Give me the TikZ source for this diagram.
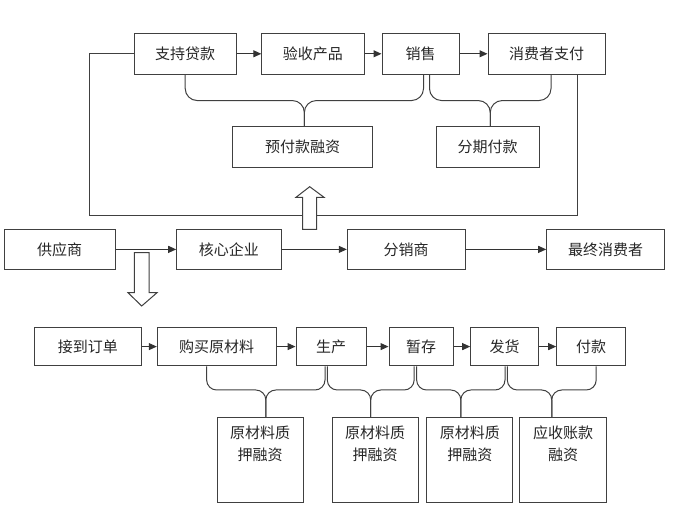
\documentclass[tikz,border=0pt]{standalone}
\usepackage{fontspec}
\newfontfamily\cjk{Noto Sans CJK SC}
\usetikzlibrary{arrows.meta,calc}

\begin{document}
\begin{tikzpicture}[x=1pt,y=1pt,font=\cjk\fontsize{15}{22}\selectfont,
  box/.style={draw=black!75,line width=1pt,inner sep=0pt,text=black!85},
  flow/.style={draw=black!80,line width=1pt,-{Triangle[length=8pt,width=7pt]}},
  link/.style={draw=black!75,line width=1pt},
  hollow/.style={draw=black!75,line width=1pt,fill=white}]
  \useasboundingbox (0,0) rectangle (679,521);

  % upper chain
  \node[box,minimum width=101.6pt,minimum height=40.5pt] (zc) at (185.2,467.2) {支持贷款};
  \node[box,minimum width=102.2pt,minimum height=40.5pt] (ys) at (312.9,467.2) {验收产品};
  \node[box,minimum width=77pt,minimum height=40.5pt] (xs) at (420.5,467.2) {销售};
  \node[box,minimum width=117pt,minimum height=40.5pt] (xf) at (546.5,467.2) {消费者支付};
  \node[box,minimum width=140pt,minimum height=40.7pt] (yf) at (302.7,374.1) {预付款融资};
  \node[box,minimum width=102.6pt,minimum height=40.7pt] (fq) at (487.7,374.1) {分期付款};

  % main chain
  \node[box,minimum width=111pt,minimum height=40pt] (gys) at (59.5,271.6) {供应商};
  \node[box,minimum width=104.3pt,minimum height=40pt] (hx) at (228.85,271.6) {核心企业};
  \node[box,minimum width=117.7pt,minimum height=40pt] (fx) at (406.15,271.6) {分销商};
  \node[box,minimum width=117.6pt,minimum height=40pt] (zx) at (605.5,271.6) {最终消费者};

  % lower chain
  \node[box,minimum width=106.3pt,minimum height=38.8pt] (jd) at (87.85,174.4) {接到订单};
  \node[box,minimum width=118.7pt,minimum height=38.8pt] (gm) at (216.65,174.4) {购买原材料};
  \node[box,minimum width=70pt,minimum height=38.8pt] (sc) at (331,174.4) {生产};
  \node[box,minimum width=64.3pt,minimum height=38.8pt] (zc2) at (421.15,174.4) {暂存};
  \node[box,minimum width=67.6pt,minimum height=38.8pt] (fh) at (504.5,174.4) {发货};
  \node[box,minimum width=69pt,minimum height=38.8pt] (fk) at (591.2,174.4) {付款};
  \node[box] (r1) at (260,60.9) {\parbox[c][85.2pt][t]{86pt}{\centering\vspace{8pt}原材料质\\押融资}};
  \node[box] (r2) at (375,60.9) {\parbox[c][85.2pt][t]{86pt}{\centering\vspace{8pt}原材料质\\押融资}};
  \node[box] (r3) at (469.85,60.9) {\parbox[c][85.2pt][t]{86pt}{\centering\vspace{8pt}原材料质\\押融资}};
  \node[box] (r4) at (563,60.9) {\parbox[c][85.2pt][t]{87pt}{\centering\vspace{8pt}应收账款\\融资}};

  % arrows
  \draw[flow] (zc) -- (ys);
  \draw[flow] (ys) -- (xs);
  \draw[flow] (xs) -- (xf);
  \draw[flow] (gys) -- (hx);
  \draw[flow] (hx) -- (fx);
  \draw[flow] (fx) -- (zx);
  \draw[flow] (jd) -- (gm);
  \draw[flow] (gm) -- (sc);
  \draw[flow] (sc) -- (zc2);
  \draw[flow] (zc2) -- (fh);
  \draw[flow] (fh) -- (fk);

  % loop round the upper chain
  \coordinate (lpl) at (89.6,305);
  \coordinate (lpr) at (577,305);
  \draw[link] (zc.west) -| (lpl) -- (lpr) -- (lpr |- xf.south);

  % braces
  \foreach \bL/\bLx/\bR/\bRx/\bT/\bD/\bC in {zc/0/xs/3/yf/26/12,xs/9/xf/4.5/fq/26/12,
      gm/-10/sc/-6/r1/23.5/10,sc/-3.7/zc2/-7/r2/23.5/10,zc2/-4.5/fh/0.5/r3/23.5/10,fh/2.8/fk/5/r4/23.5/10}{
    \coordinate (bl) at ([xshift=\bLx pt]\bL.south);
    \coordinate (br) at ([xshift=\bRx pt]\bR.south);
    \coordinate (bt) at ($(bl)!.5!(br)$);
    \draw[link] (bl) -- ++(0,\bC-\bD) arc[start angle=180,end angle=270,radius=\bC]
      -- ($(bt)+(-\bC,-\bD)$) arc[start angle=90,end angle=0,radius=\bC] -- (bt |- \bT.north);
    \draw[link] (br) -- ++(0,\bC-\bD) arc[start angle=0,end angle=-90,radius=\bC]
      -- ($(bt)+(\bC,-\bD)$) arc[start angle=90,end angle=180,radius=\bC] -- (bt |- \bT.north);
  }

  % hollow arrows
  \draw[hollow] (302.7,291.7) -- (302.7,323.7) -- (296,323.7) -- (309.7,334.3) -- (324,323.7) -- (316.7,323.7) -- (316.7,291.7) -- cycle;
  \draw[hollow] (134.3,268.3) -- (134.3,228.3) -- (128,228.3) -- (141.7,215) -- (157,228.3) -- (149,228.3) -- (149,268.3) -- cycle;
\end{tikzpicture}
\end{document}
